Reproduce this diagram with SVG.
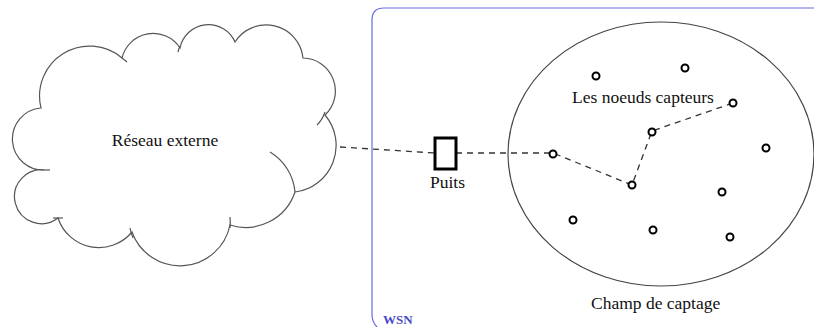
<svg xmlns="http://www.w3.org/2000/svg" width="814" height="327" viewBox="0 0 814 327">
<style>
.t{font-family:"Liberation Serif","Times New Roman",serif;font-size:17.5px;fill:#111}
.cl{fill:#fff;stroke:#555;stroke-width:1.2}
.ci{fill:none;stroke:#555;stroke-width:1.2}
.dash{fill:none;stroke:#333;stroke-width:1.3;stroke-dasharray:6 5}
.nd{fill:#fff;stroke:#000;stroke-width:2}
</style>
<rect width="814" height="327" fill="#fff"/>
<g id="wsn">
<path d="M377,327 Q372,322 372,315 L372,20 Q372,8 384,8 L814,8" fill="none" stroke="#6a6ae0" stroke-width="1.2"/>
<text x="383" y="324" font-family="Liberation Serif,serif" font-size="13" font-weight="bold" fill="#4848c8">WSN</text>
</g>
<g id="cloud">
<path class="cl" d="M41,108 A50,50 0 0 1 122,58 A32,32 0 0 1 180,48 A29,29 0 0 1 235,42 A37,37 0 0 1 303,58 A33,33 0 0 1 325,115 A47,47 0 0 1 295,192 A52,52 0 0 1 230,225 A51,51 0 0 1 132,232 A43,43 0 0 1 58,218 A27,27 0 1 1 46,170 A31,31 0 1 1 41,108 Z"/>
<path class="ci" d="M270,152 A52,52 0 0 1 295,192"/>
<path class="ci" d="M317,125 A33,33 0 0 0 325,112"/>
<path class="ci" d="M122,58 A50,50 0 0 1 127,62"/>
<path class="ci" d="M178,52 A29,29 0 0 1 180,46"/>
<path class="ci" d="M230,217 A51,51 0 0 1 230,228"/>
<path class="ci" d="M133,238 A51,51 0 0 1 130,228"/>
<path class="ci" d="M53,218 L63,218"/>
<path class="ci" d="M46,170 L50,170"/>
<text class="t" x="165" y="146" text-anchor="middle">Réseau externe</text>
</g>
<g id="field">
<ellipse cx="661" cy="154" rx="153" ry="132" fill="none" stroke="#444" stroke-width="1.2"/>
<text class="t" x="572" y="103">Les noeuds capteurs</text>
<text class="t" x="591" y="309">Champ de captage</text>
</g>
<g id="connectors">
<path class="dash" d="M340,147 L435,153"/>
<path class="dash" d="M456,153 L553,153 L632,185 L652,131 L733,103"/>
</g>
<g id="puits">
<rect x="435" y="138" width="21" height="31" fill="#fff" stroke="#000" stroke-width="3"/>
<text class="t" x="430" y="188">Puits</text>
</g>
<g id="nodes">
<circle class="nd" cx="596" cy="76" r="3.5"/>
<circle class="nd" cx="685" cy="68" r="3.5"/>
<circle class="nd" cx="733" cy="103" r="3.5"/>
<circle class="nd" cx="652" cy="132" r="3.5"/>
<circle class="nd" cx="766" cy="148" r="3.5"/>
<circle class="nd" cx="553" cy="154" r="3.5"/>
<circle class="nd" cx="632" cy="185" r="3.5"/>
<circle class="nd" cx="722" cy="192" r="3.5"/>
<circle class="nd" cx="573" cy="220" r="3.5"/>
<circle class="nd" cx="653" cy="230" r="3.5"/>
<circle class="nd" cx="730" cy="237" r="3.5"/>
</g>
</svg>
